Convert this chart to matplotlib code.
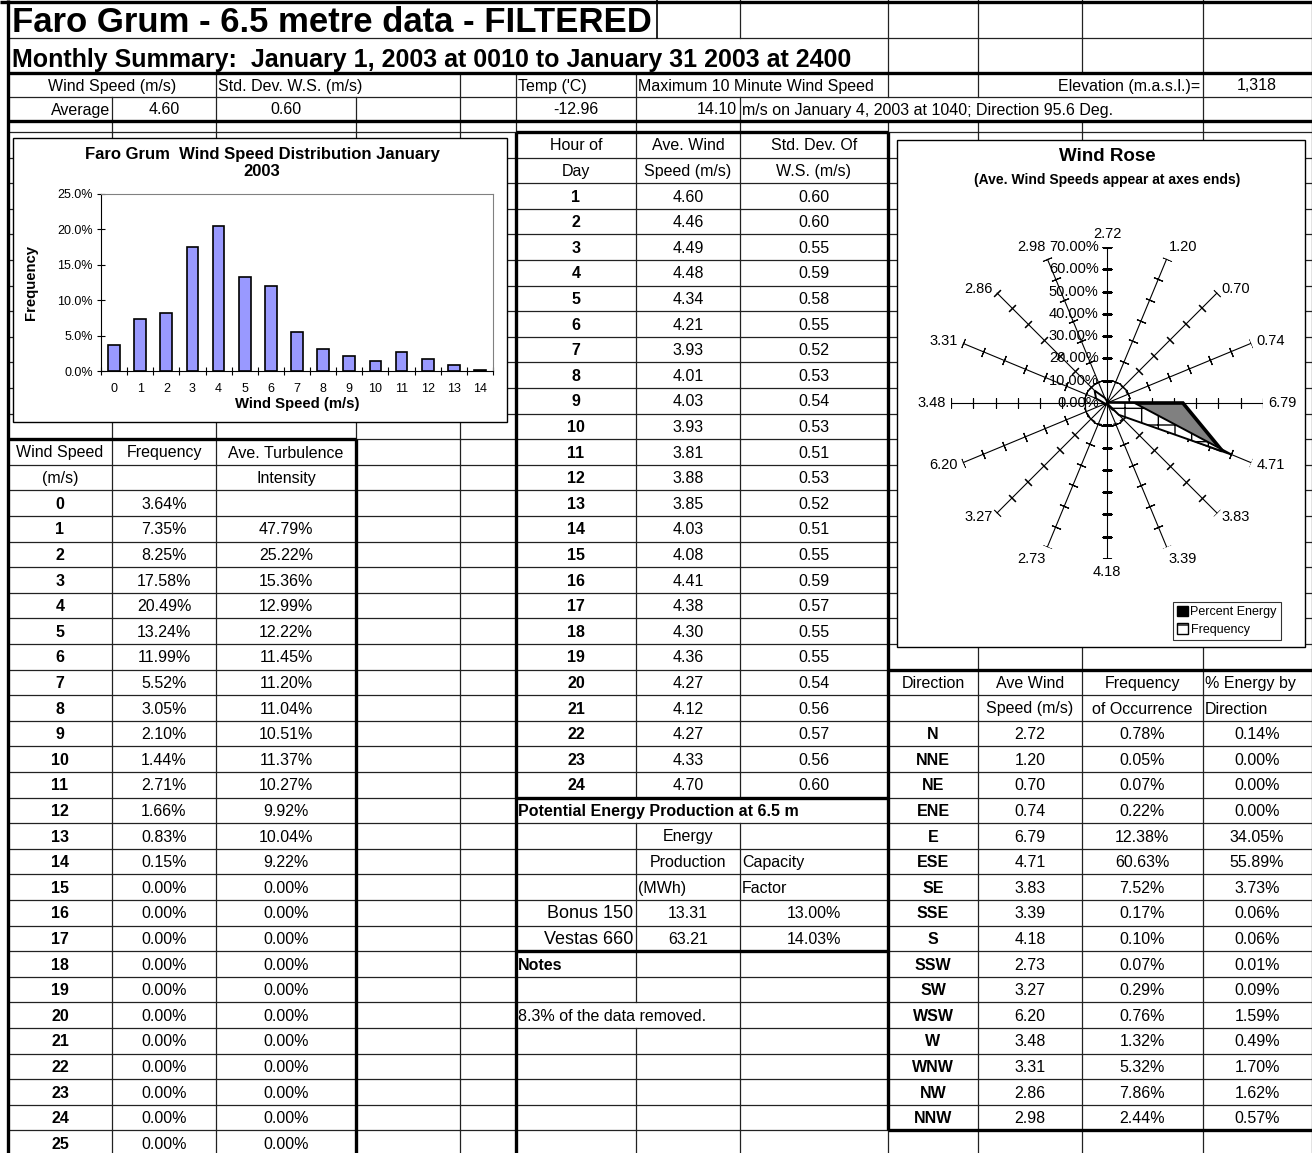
import numpy as np
import matplotlib.pyplot as plt
from matplotlib.patches import Rectangle, Patch

plt.rcParams['font.family'] = ['Liberation Sans', 'DejaVu Sans']
plt.rcParams['hatch.linewidth'] = 1.0

# summary values
avg_ws = 4.60
avg_std = 0.60
avg_temp = -12.96
max_ws = 14.10
elevation = '1,318'

# wind speed distribution (bins 0..25 m/s), percent
ws_bins = list(range(26))
ws_freq = [3.64, 7.35, 8.25, 17.58, 20.49, 13.24, 11.99, 5.52, 3.05, 2.10, 1.44, 2.71, 1.66,
           0.83, 0.15, 0.00, 0.00, 0.00, 0.00, 0.00, 0.00, 0.00, 0.00, 0.00, 0.00, 0.00]
ws_turb = [None, 47.79, 25.22, 15.36, 12.99, 12.22, 11.45, 11.20, 11.04, 10.51, 11.37, 10.27, 9.92,
           10.04, 9.22, 0.00, 0.00, 0.00, 0.00, 0.00, 0.00, 0.00, 0.00, 0.00, 0.00, 0.00]

# hourly values
hours = list(range(1, 25))
hr_speed = [4.60, 4.46, 4.49, 4.48, 4.34, 4.21, 3.93, 4.01, 4.03, 3.93, 3.81, 3.88,
            3.85, 4.03, 4.08, 4.41, 4.38, 4.30, 4.36, 4.27, 4.12, 4.27, 4.33, 4.70]
hr_std = [0.60, 0.60, 0.55, 0.59, 0.58, 0.55, 0.52, 0.53, 0.54, 0.53, 0.51, 0.53,
          0.52, 0.51, 0.55, 0.59, 0.57, 0.55, 0.55, 0.54, 0.56, 0.57, 0.56, 0.60]

# direction table
dirs = ['N', 'NNE', 'NE', 'ENE', 'E', 'ESE', 'SE', 'SSE', 'S', 'SSW', 'SW', 'WSW', 'W', 'WNW', 'NW', 'NNW']
dir_speed = [2.72, 1.20, 0.70, 0.74, 6.79, 4.71, 3.83, 3.39, 4.18, 2.73, 3.27, 6.20, 3.48, 3.31, 2.86, 2.98]
dir_freq = [0.78, 0.05, 0.07, 0.22, 12.38, 60.63, 7.52, 0.17, 0.10, 0.07, 0.29, 0.76, 1.32, 5.32, 7.86, 2.44]
dir_energy = [0.14, 0.00, 0.00, 0.00, 34.05, 55.89, 3.73, 0.06, 0.06, 0.01, 0.09, 1.59, 0.49, 1.70, 1.62, 0.57]

# turbines
turbines = ['Bonus 150', 'Vestas 660']
turb_mwh = [13.31, 63.21]
turb_cf = [13.00, 14.03]

W, H = 1312, 1153
fig = plt.figure(figsize=(W / 100, H / 100), dpi=100)
ax = fig.add_axes([0, 0, 1, 1])
ax.set_xlim(0, W)
ax.set_ylim(H, 0)
ax.axis('off')

FS = 11.5
X = [8, 112, 216, 356, 460, 516, 636, 740, 888, 978, 1082, 1203, 1312]
edges = [0, 38, 73, 97, 121, 132] + [132 + 25.6 * k for k in range(1, 41)]
nrows = len(edges) - 1

hide = {0: {112, 216, 356, 460, 516, 636}, 1: {112, 216, 356, 460, 516, 636, 740},
        2: {112, 356, 740, 1082}, 3: {888, 978, 1082}, 5 + 26: {636, 740}, 5 + 34: {636}}

# thin grid
for r in range(nrows):
    for x in X[1:]:
        if x not in hide.get(r, ()):
            ax.plot([x, x], [edges[r], edges[r + 1]], color='#222222', lw=0.9, zorder=1)
for y in edges[1:]:
    ax.plot([8, W], [y, y], color='#222222', lw=0.9, zorder=1)
ax.plot([657, 657], [0, 38], color='black', lw=1.2, zorder=1)


def by(k):
    return edges[5 + k]


# thick borders
thick = [([0, W], [1.5, 1.5]), ([8, 8], [0, H]), ([8, W], [73, 73]), ([8, W], [121, 121]),
         ([516, 888], [132, 132]), ([516, 516], [132, H]), ([888, 888], [132, by(39)]),
         ([516, 888], [by(26), by(26)]), ([516, 888], [by(32), by(32)]),
         ([888, W], [by(21), by(21)]), ([888, W], [by(39), by(39)]),
         ([8, 356], [by(12), by(12)]), ([356, 356], [by(12), H])]
for xs, ys in thick:
    ax.plot(xs, ys, color='black', lw=2.4, zorder=2, solid_capstyle='butt')


def yc(r):
    return (edges[r] + edges[r + 1]) / 2 + 1


def txt(x, r, s, ha='center', bold=False, size=FS, dy=0):
    ax.text(x, yc(r) + dy, s, ha=ha, va='center', fontsize=size,
            fontweight='bold' if bold else 'normal', zorder=3)


# header rows
txt(12, 0, 'Faro Grum - 6.5 metre data - FILTERED', ha='left', bold=True, size=25, dy=3)
txt(12, 1, 'Monthly Summary:  January 1, 2003 at 0010 to January 31 2003 at 2400',
    ha='left', bold=True, size=18, dy=3)
txt(112, 2, 'Wind Speed (m/s)')
txt(218, 2, 'Std. Dev. W.S. (m/s)', ha='left')
txt(518, 2, "Temp ('C)", ha='left')
txt(638, 2, 'Maximum 10 Minute Wind Speed', ha='left')
txt(1200, 2, 'Elevation (m.a.s.l.)=', ha='right')
txt(1257, 2, elevation)
txt(110, 3, 'Average', ha='right')
txt(164, 3, f'{avg_ws:.2f}')
txt(286, 3, f'{avg_std:.2f}')
txt(576, 3, f'{avg_temp:.2f}')
txt(737, 3, f'{max_ws:.2f}', ha='right')
txt(742, 3, 'm/s on January 4, 2003 at 1040; Direction 95.6 Deg.', ha='left')

# hourly table
R = 5
txt(576, R + 0, 'Hour of')
txt(688, R + 0, 'Ave. Wind')
txt(814, R + 0, 'Std. Dev. Of')
txt(576, R + 1, 'Day')
txt(688, R + 1, 'Speed (m/s)')
txt(814, R + 1, 'W.S. (m/s)')
for i, h in enumerate(hours):
    txt(576, R + 2 + i, str(h), bold=True)
    txt(688, R + 2 + i, f'{hr_speed[i]:.2f}')
    txt(814, R + 2 + i, f'{hr_std[i]:.2f}')

txt(518, R + 26, 'Potential Energy Production at 6.5 m', ha='left', bold=True)
txt(688, R + 27, 'Energy')
txt(688, R + 28, 'Production')
txt(742, R + 28, 'Capacity', ha='left')
txt(638, R + 29, '(MWh)', ha='left')
txt(742, R + 29, 'Factor', ha='left')
for i, t in enumerate(turbines):
    txt(633, R + 30 + i, t, ha='right', size=13)
    txt(688, R + 30 + i, f'{turb_mwh[i]:.2f}')
    txt(814, R + 30 + i, f'{turb_cf[i]:.2f}%')
txt(518, R + 32, 'Notes', ha='left', bold=True)
txt(518, R + 34, '8.3% of the data removed.', ha='left')

# wind speed table
txt(60, R + 12, 'Wind Speed')
txt(164, R + 12, 'Frequency')
txt(286, R + 12, 'Ave. Turbulence')
txt(60, R + 13, '(m/s)')
txt(286, R + 13, 'Intensity')
for i, b in enumerate(ws_bins):
    txt(60, R + 14 + i, str(b), bold=True)
    txt(164, R + 14 + i, f'{ws_freq[i]:.2f}%')
    if ws_turb[i] is not None:
        txt(286, R + 14 + i, f'{ws_turb[i]:.2f}%')

# direction table
txt(933, R + 21, 'Direction')
txt(1030, R + 21, 'Ave Wind')
txt(1142, R + 21, 'Frequency')
txt(1205, R + 21, '% Energy by', ha='left')
txt(1030, R + 22, 'Speed (m/s)')
txt(1142, R + 22, 'of Occurrence')
txt(1205, R + 22, 'Direction', ha='left')
for i, d in enumerate(dirs):
    txt(933, R + 23 + i, d, bold=True)
    txt(1030, R + 23 + i, f'{dir_speed[i]:.2f}')
    txt(1142, R + 23 + i, f'{dir_freq[i]:.2f}%')
    txt(1257, R + 23 + i, f'{dir_energy[i]:.2f}%')

# chart boxes
ax.add_patch(Rectangle((13, 138), 494, 284, facecolor='white', edgecolor='black', lw=1.0, zorder=5))
ax.add_patch(Rectangle((897, 140), 408, 507, facecolor='white', edgecolor='black', lw=1.0, zorder=5))

# histogram
hx = fig.add_axes([101 / W, 1 - 371 / H, 392 / W, 177 / H])
hx.bar(ws_bins[:15], ws_freq[:15], width=0.45, color='#9999FF', edgecolor='black', lw=1.2)
hx.set_xlim(-0.5, 14.5)
hx.set_ylim(0, 25)
hx.set_yticks([0, 5, 10, 15, 20, 25])
hx.set_yticklabels([f'{v:.1f}%' for v in [0, 5, 10, 15, 20, 25]], fontsize=9)
hx.set_xticks(ws_bins[:15])
hx.set_xticklabels([str(b) for b in ws_bins[:15]], fontsize=9)
hx.set_xticks(np.arange(-0.5, 15, 1), minor=True)
hx.tick_params(axis='x', which='major', length=0, pad=9)
hx.tick_params(axis='x', which='minor', length=6, direction='inout', width=0.8)
hx.tick_params(axis='y', length=6, direction='inout', width=0.8, pad=3)
for s in ['top', 'right']:
    hx.spines[s].set_color('#808080')
hx.set_xlabel('Wind Speed (m/s)', fontsize=10.7, fontweight='bold', labelpad=1)
hx.set_ylabel('Frequency', fontsize=10.7, fontweight='bold', labelpad=14)
fig.text(262 / W, 1 - 163 / H, 'Faro Grum  Wind Speed Distribution January\n2003',
         ha='center', va='center', fontsize=12, fontweight='bold', linespacing=1.15)

# wind rose
cx, cy, rad = 1107, 403, 156
rx = fig.add_axes([(cx - rad) / W, 1 - (cy + rad) / H, 2 * rad / W, 2 * rad / H], projection='polar')
rx.set_theta_zero_location('N')
rx.set_theta_direction(-1)
rx.set_ylim(0, 0.7)
rx.spines['polar'].set_visible(False)
rx.set_xticks([])
rx.set_yticks([0.1])
rx.set_yticklabels([])
rx.yaxis.grid(True, ls=(0, (3, 3)), color='black', lw=0.9)
rx.xaxis.grid(False)
rx.patch.set_alpha(0)

deg = np.arange(16) * 22.5
th = np.deg2rad(deg)
levels = np.arange(1, 8) / 10
for i, t in enumerate(th):
    rx.plot([t, t], [0, 0.7], color='black', lw=0.8, zorder=2)
    rx.plot([t] * 7, levels, ls='none', marker=(2, 2, 90 - deg[i]), ms=7,
            mec='black', mew=0.8, zorder=2)
    s, c = np.sin(t), np.cos(t)
    ha = 'left' if s > 0.2 else ('right' if s < -0.2 else 'center')
    va = 'bottom' if c > 0.9 else ('top' if c < -0.9 else 'center')
    rx.annotate(f'{dir_speed[i]:.2f}', xy=(t, 0.7), xytext=(4 * s, 4 * c),
                textcoords='offset points', ha=ha, va=va, fontsize=10.5, annotation_clip=False)
for v in np.arange(0, 8) / 10:
    rx.annotate(f'{v:.2%}', xy=(0, v), xytext=(-6, 0), textcoords='offset points',
                ha='right', va='center', fontsize=10.5, zorder=1)

thc = np.append(th, th[0])
en = np.array(dir_energy + dir_energy[:1]) / 100
fq = np.array(dir_freq + dir_freq[:1]) / 100
rx.fill(thc, en, facecolor='#808080', edgecolor='black', lw=2.6, zorder=3)
rx.fill(thc, fq, facecolor='white', edgecolor='black', hatch='+', lw=1.4, zorder=4)

fig.text(cx / W, 1 - 157 / H, 'Wind Rose', ha='center', va='center', fontsize=13.5, fontweight='bold')
fig.text(cx / W, 1 - 180 / H, '(Ave. Wind Speeds appear at axes ends)', ha='center', va='center',
         fontsize=10, fontweight='bold')

handles = [Patch(facecolor='black', edgecolor='black'),
           Patch(facecolor='white', edgecolor='black', hatch='+')]
leg = fig.legend(handles, ['Percent Energy', 'Frequency'], loc='upper left',
                 bbox_to_anchor=(1173 / W, 1 - 602 / H), fontsize=9, frameon=True, fancybox=False,
                 edgecolor='black', borderpad=0.3, labelspacing=0.4, handlelength=0.9,
                 handleheight=0.9, handletextpad=0.2, borderaxespad=0)
leg.get_frame().set_linewidth(0.8)

fig.savefig('out.png', dpi=100)
